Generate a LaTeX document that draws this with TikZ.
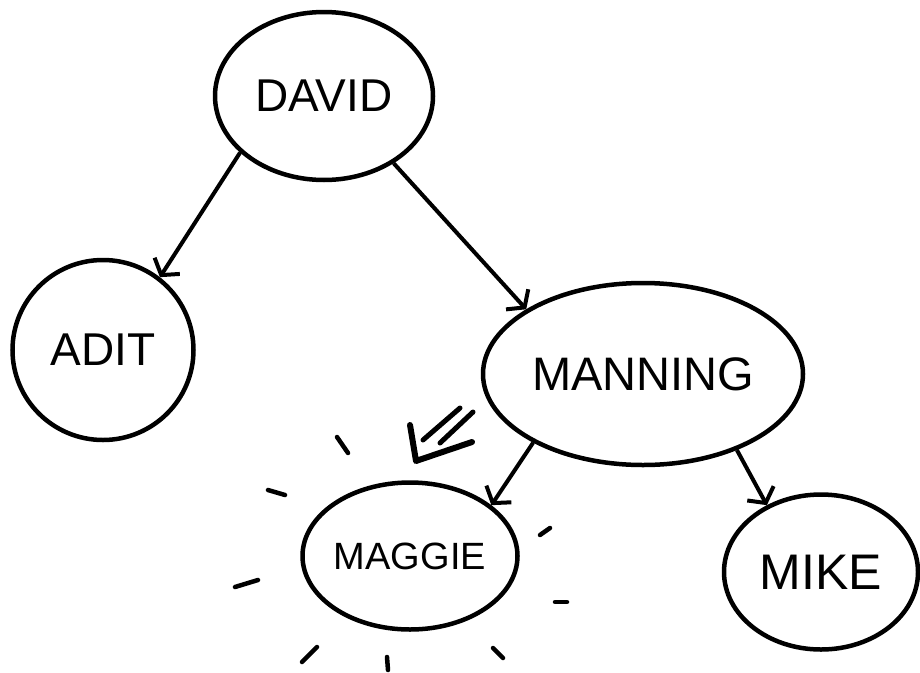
\documentclass[tikz,border=0pt]{standalone}
\usepackage{fontspec}
\setmainfont{Liberation Sans}
\usetikzlibrary{arrows.meta,positioning,shapes.geometric}

\begin{document}
\begin{tikzpicture}[x=1pt,y=-1pt,
every node/.style={ellipse,draw,line width=4.5pt,inner sep=0pt,
font=\fontsize{46}{48}\selectfont},
edge/.style={line width=4pt,-{Straight Barb[length=11pt,width=30pt,line width=4pt]}},
ray/.style={line width=4.5pt,line cap=round}]
\useasboundingbox (0,0) rectangle (920,672);
\node[minimum width=218pt,minimum height=168pt] (P1) at (324,96) {DAVID};
\node[minimum width=181pt,minimum height=180pt] (P2) at (103,350) {ADIT};
\node[minimum width=320pt,minimum height=182pt,
font=\fontsize{47}{49}\selectfont] (P3) at (643,374) {MANNING};
\node[minimum width=215pt,minimum height=147pt,
font=\fontsize{38}{40}\selectfont] (P4) at (410,556) {MAGGIE};
\node[minimum width=194pt,minimum height=155pt,
font=\fontsize{50}{52}\selectfont] (P5) at (821,572) {MIKE};
\draw[edge] (P1.214)--(P2.52);
\draw[edge] (P1.316)--(P3.151);
\draw[edge] (P3.212)--(P4.32);
\draw[edge] (P3.321)--(P5.129);
% the hand drawn arrow pointing at maggie
\draw[ray,line width=6pt,line join=round] (410,425)--(416,461)--(472,442);
\draw[ray,line width=5pt] (423,440)--(460,408);
\draw[ray,line width=5pt] (440,443)--(473,412);
% rays
\draw[ray] (337,437)--(348,453);
\draw[ray] (268,490)--(285,495);
\draw[ray] (235,587)--(258,580);
\draw[ray] (302,662)--(317,647);
\draw[ray] (387,657)--(388,670);
\draw[ray] (493,648)--(503,658);
\draw[ray] (555,602)--(567,602);
\draw[ray] (540,535)--(550,528);
\end{tikzpicture}
\end{document}
